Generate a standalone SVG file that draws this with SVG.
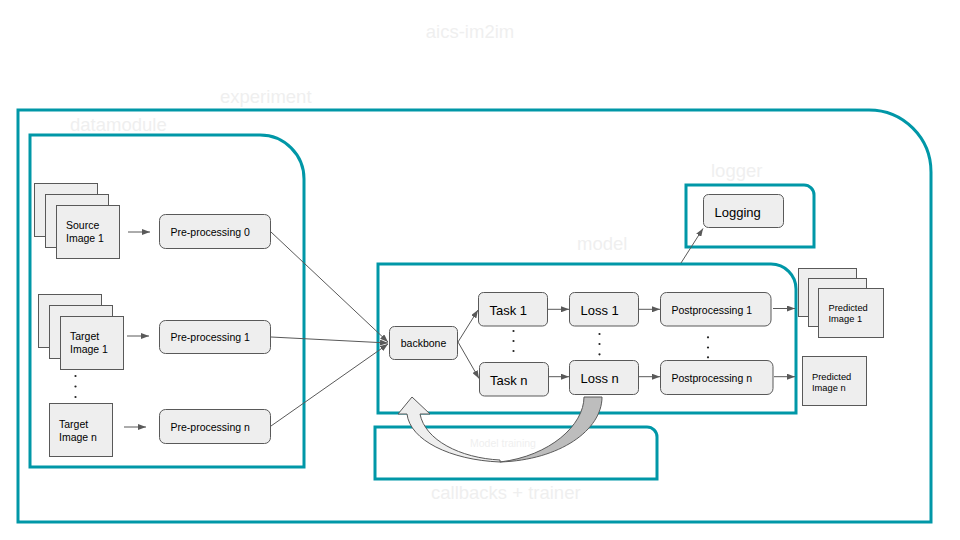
<svg xmlns="http://www.w3.org/2000/svg" width="960" height="540" viewBox="0 0 960 540">
<defs>
<style>
.frame{fill:none;stroke:#0097a7;stroke-width:3}
.lbl{font-family:"Liberation Sans",Arial,sans-serif;font-size:18.5px;fill:#efefef}
.node{fill:#eeeeee;stroke:#595959;stroke-width:1}
.t{font-family:"Liberation Sans",Arial,sans-serif;fill:#000}
.s10{font-size:10.5px}
.s9{font-size:9.3px}
.s13{font-size:13px}
.c{fill:none;stroke:#595959;stroke-width:1;marker-end:url(#ah)}
.dot{fill:#222}
</style>
<marker id="ah" markerUnits="userSpaceOnUse" markerWidth="8" markerHeight="6" refX="8" refY="3" orient="auto">
<path d="M0,0 L8,3 L0,6 Z" fill="#595959"/>
</marker>
</defs>
<rect width="960" height="540" fill="#ffffff"/>

<g id="frames">
<path class="frame" d="M18,110 L869,110 A62,62 0 0 1 931,172 L931,522 L18,522 Z"/>
<path class="frame" d="M30,135 L260,135 A44,44 0 0 1 304,179 L304,467 L30,467 Z"/>
<path class="frame" d="M378,264 L771,264 A25,25 0 0 1 796,289 L796,413 L378,413 Z"/>
<path class="frame" d="M686,185 L804,185 A10,10 0 0 1 814,195 L814,247 L686,247 Z"/>
<path class="frame" d="M375,427 L647,427 A10,10 0 0 1 657,437 L657,479 L375,479 Z"/>
</g>

<g id="labels">
<text class="lbl" x="470" y="38" text-anchor="middle">aics-im2im</text>
<text class="lbl" x="220" y="103">experiment</text>
<text class="lbl" x="70" y="131">datamodule</text>
<text class="lbl" x="577" y="250">model</text>
<text class="lbl" x="711" y="177">logger</text>
<text class="lbl" x="431" y="499">callbacks + trainer</text>
<text class="t" x="470" y="447" style="font-size:10.5px;fill:#efefef">Model training</text>
</g>

<g id="source-image">
<rect class="node" x="34.5" y="183.5" width="63" height="53"/>
<rect class="node" x="45.5" y="194.5" width="63" height="53"/>
<rect class="node" x="56.5" y="205.5" width="63" height="53"/>
<text class="t s10" x="66" y="229">Source</text>
<text class="t s10" x="66" y="242">Image 1</text>
</g>
<g id="target-image-1">
<rect class="node" x="38.5" y="294.5" width="63" height="53"/>
<rect class="node" x="49.5" y="305.5" width="63" height="53"/>
<rect class="node" x="60.5" y="316.5" width="63" height="53"/>
<text class="t s10" x="70" y="340">Target</text>
<text class="t s10" x="70" y="353">Image 1</text>
</g>
<g id="target-dots">
<circle class="dot" cx="75.5" cy="376" r="1.1"/>
<circle class="dot" cx="75.5" cy="386.5" r="1.1"/>
<circle class="dot" cx="75.5" cy="397" r="1.1"/>
</g>
<g id="target-image-n">
<rect class="node" x="49.5" y="403.5" width="63" height="53"/>
<text class="t s10" x="59" y="428">Target</text>
<text class="t s10" x="59" y="441">Image n</text>
</g>

<g id="pre0"><rect class="node" x="159.5" y="214.5" width="111" height="34" rx="6"/><text class="t s10" x="170.5" y="235.5">Pre-processing 0</text></g>
<g id="pre1"><rect class="node" x="159.5" y="320.5" width="111" height="33" rx="6"/><text class="t s10" x="170.5" y="341">Pre-processing 1</text></g>
<g id="pren"><rect class="node" x="159.5" y="409.5" width="111" height="34" rx="6"/><text class="t s10" x="170.5" y="430.5">Pre-processing n</text></g>

<g id="backbone"><rect class="node" x="389.5" y="326.5" width="68" height="33" rx="5"/><text class="t s10" x="423.5" y="347" text-anchor="middle">backbone</text></g>

<g id="task1"><rect class="node" x="478.5" y="292.5" width="69" height="33.5" rx="5"/><text class="t s13" x="489.5" y="314.5">Task 1</text></g>
<g id="taskn"><rect class="node" x="479.5" y="362.5" width="69" height="33.5" rx="5"/><text class="t s13" x="490" y="384.5">Task n</text></g>
<g id="loss1"><rect class="node" x="569.5" y="292.5" width="69" height="33.5" rx="5"/><text class="t s13" x="580.5" y="314.5">Loss 1</text></g>
<g id="lossn"><rect class="node" x="569.5" y="360.5" width="69" height="34" rx="5"/><text class="t s13" x="580.5" y="382.5">Loss n</text></g>
<g id="post1"><rect class="node" x="660.5" y="292.5" width="110.5" height="33.5" rx="6"/><text class="t s10" x="671.5" y="313.5">Postprocessing 1</text></g>
<g id="postn"><rect class="node" x="660.5" y="360.5" width="112.5" height="34" rx="6"/><text class="t s10" x="671.5" y="382">Postprocessing n</text></g>

<g id="task-dots">
<circle class="dot" cx="513.5" cy="331" r="1.1"/><circle class="dot" cx="513.5" cy="341" r="1.1"/><circle class="dot" cx="513.5" cy="351" r="1.1"/>
<circle class="dot" cx="599.5" cy="334" r="1.1"/><circle class="dot" cx="599.5" cy="344" r="1.1"/><circle class="dot" cx="599.5" cy="354.3" r="1.1"/>
<circle class="dot" cx="708" cy="337.3" r="1.1"/><circle class="dot" cx="708" cy="347.5" r="1.1"/><circle class="dot" cx="708" cy="357.3" r="1.1"/>
</g>

<g id="predicted-image-1">
<rect class="node" x="798.5" y="268.5" width="58" height="48"/>
<rect class="node" x="808.5" y="278.5" width="58" height="48"/>
<rect class="node" x="818.5" y="288.5" width="65" height="49"/>
<text class="t s9" x="828.5" y="311">Predicted</text>
<text class="t s9" x="828.5" y="322">Image 1</text>
</g>
<g id="predicted-image-n">
<rect class="node" x="802.5" y="356.5" width="64" height="49"/>
<text class="t s9" x="812" y="379.5">Predicted</text>
<text class="t s9" x="812" y="390.5">Image n</text>
</g>

<g id="logging"><rect class="node" x="703.5" y="194.5" width="80" height="33" rx="5"/><text class="t s13" x="714.5" y="216.5">Logging</text></g>

<g id="connectors">
<line class="c" x1="128" y1="232" x2="150" y2="232"/>
<line class="c" x1="127" y1="336" x2="149" y2="336"/>
<line class="c" x1="124" y1="427" x2="146" y2="427"/>
<line class="c" x1="271" y1="232" x2="388" y2="342"/>
<line class="c" x1="271" y1="337" x2="388" y2="343"/>
<line class="c" x1="271" y1="426" x2="388" y2="344"/>
<line class="c" x1="458" y1="342" x2="478" y2="310"/>
<line class="c" x1="458" y1="342" x2="479" y2="378.5"/>
<line class="c" x1="548" y1="309.3" x2="569" y2="309.3"/>
<line class="c" x1="638.5" y1="309.3" x2="660" y2="309.3"/>
<line class="c" x1="773" y1="308.5" x2="795" y2="308.5"/>
<line class="c" x1="549" y1="376.7" x2="569" y2="376.7"/>
<line class="c" x1="639" y1="376.7" x2="660" y2="376.7"/>
<line class="c" x1="774" y1="376.7" x2="795" y2="376.7"/>
<line class="c" x1="681" y1="263" x2="703" y2="228.5"/>
</g>

<g id="training-arrow">
<path d="M584,397 L602,397 C602,430 560,460 500,462 C550,456 584,425 584,397 Z" fill="#bdbdbd" stroke="#595959" stroke-width="1"/>
<path d="M500,462 C450,460 410,440 407,414 L398,414 L412,397 L430,414 L420,414 C425,440 460,458 500,460 Z" fill="#eeeeee" stroke="#595959" stroke-width="1"/>
</g>
</svg>
